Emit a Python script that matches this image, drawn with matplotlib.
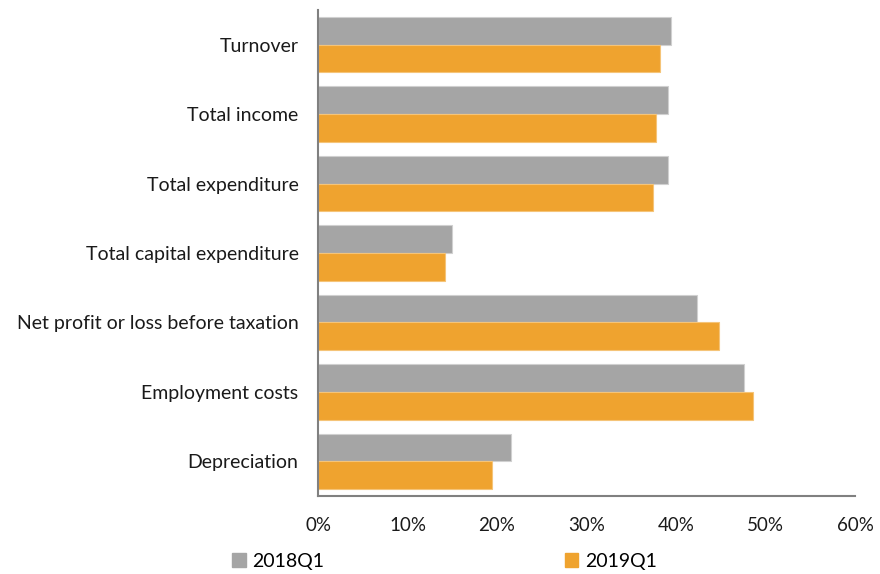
import matplotlib.pyplot as plt
from matplotlib.patches import Patch
from matplotlib.ticker import PercentFormatter
import numpy as np

plt.rcParams['font.family'] = ['Lato', 'DejaVu Sans']

categories = ['Turnover', 'Total income', 'Total expenditure',
              'Total capital expenditure', 'Net profit or loss before taxation',
              'Employment costs', 'Depreciation']
q2018 = [39.4, 39.1, 39.1, 15.0, 42.3, 47.6, 21.6]
q2019 = [38.2, 37.8, 37.4, 14.2, 44.8, 48.6, 19.4]
xticks = [0, 10, 20, 30, 40, 50, 60]

gray = '#a5a5a5'
orange = '#efa32f'

fig = plt.figure(figsize=(8.8, 5.74), dpi=100)
ax = fig.add_axes([0.3614, 0.1359, 0.6102, 0.8467])

y = np.arange(len(categories))
h = 0.4
ax.barh(y - h / 2, q2018, height=h, color=gray, edgecolor='#d0d0d0', linewidth=0.8)
ax.barh(y + h / 2, q2019, height=h, color=orange, edgecolor='#f5c478', linewidth=0.8)

ax.set_ylim(len(categories) - 0.5, -0.5)
ax.set_xlim(0, 60)
ax.set_yticks(y)
ax.set_yticklabels(categories, fontsize=14, color='#1a1a1a')
ax.set_xticks(xticks)
ax.xaxis.set_major_formatter(PercentFormatter(decimals=0))
ax.tick_params(axis='x', labelsize=13.5, colors='#1a1a1a', length=0, pad=15)
ax.tick_params(axis='y', length=0, pad=14)

for s in ['top', 'right']:
    ax.spines[s].set_visible(False)
for s in ['left', 'bottom']:
    ax.spines[s].set_color('#808080')
    ax.spines[s].set_linewidth(1.5)

handles = [Patch(color=gray, label='2018Q1'), Patch(color=orange, label='2019Q1')]
fig.legend(handles=handles, loc='center left', bbox_to_anchor=(0.244, 0.022),
           ncol=2, frameon=False, fontsize=14, handlelength=0.7, handleheight=0.7,
           handletextpad=0.35, columnspacing=12.35)

fig.savefig('out.png', dpi=100)
